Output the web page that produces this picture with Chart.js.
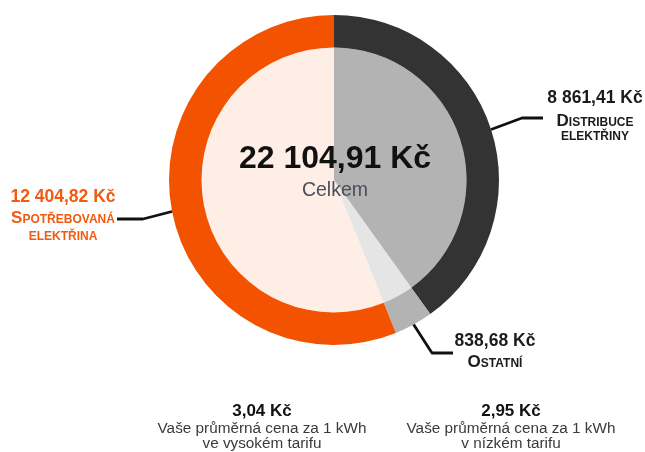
<!DOCTYPE html>
<html lang="cs">
<head>
<meta charset="utf-8">
<script src="https://cdn.jsdelivr.net/npm/chart.js@4/dist/chart.umd.min.js"></script>
<style>
  html, body { margin: 0; padding: 0; background: #fff; }
  #wrap { position: relative; width: 645px; height: 452px; overflow: hidden; font-family: "Liberation Sans", Arial, sans-serif; }
  #costChart { position: absolute; left: 0; top: 0; }
  .txt { position: absolute; white-space: nowrap; transform: translateX(-50%); }
</style>
</head>
<body>
<div id="wrap">
  <canvas id="costChart" width="645" height="452"></canvas>
</div>
<script>
// data
const categories = ['Distribuce elektřiny', 'Ostatní', 'Spotřebovaná elektřina'];
const amounts = [8861.41, 838.68, 12404.82];
const ringColors = ['#333333', '#b3b3b3', '#f35200'];
const fillColors = ['#b3b3b3', '#e5e5e5', '#feeee6'];
const labelColors = ['#1b1b1b', '#1b1b1b', '#f35a10'];
const totalLabel = 'Celkem';
const tariffPrices = [3.04, 2.95];
const tariffNotes = ['ve vysokém tarifu', 'v nízkém tarifu'];

// layout (label anchors, leader elbows)
const labelAnchors = [
  { cx: 595, base: [104, 126, 140] },
  { cx: 495, base: [347, 367] },
  { cx: 63,  base: [203, 223, 240] },
];
const leaders = [
  { elbow: [522, 118], end: [543, 118] },
  { elbow: [432, 353], end: [453, 353] },
  { elbow: [143, 219], end: [117, 219] },
];
const tariffX = [262, 511];

function formatKc(v) {
  const [i, d] = v.toFixed(2).split('.');
  return i.replace(/\B(?=(\d{3})+(?!\d))/g, ' ') + ',' + d + ' Kč';
}

const wrap = document.getElementById('wrap');
function addText(text, cx, baseline, size, weight, color, extra) {
  const el = document.createElement('div');
  el.className = 'txt';
  el.textContent = text;
  el.style.left = cx + 'px';
  el.style.top = (baseline - 0.8465 * size) + 'px';
  el.style.fontSize = size + 'px';
  el.style.lineHeight = size + 'px';
  el.style.fontWeight = weight;
  el.style.color = color;
  if (extra) Object.assign(el.style, extra);
  wrap.appendChild(el);
}

// leader lines from the middle of each outer arc
const leaderPlugin = {
  id: 'leaders',
  afterDraw(chart) {
    const ctx = chart.ctx;
    const arcs = chart.getDatasetMeta(0).data;
    ctx.save();
    ctx.strokeStyle = '#111';
    ctx.lineWidth = 2.8;
    ctx.lineJoin = 'round';
    arcs.forEach((arc, i) => {
      const p = arc.getProps(['x', 'y', 'startAngle', 'endAngle', 'outerRadius'], true);
      const mid = (p.startAngle + p.endAngle) / 2;
      const sx = p.x + Math.cos(mid) * p.outerRadius;
      const sy = p.y + Math.sin(mid) * p.outerRadius;
      ctx.beginPath();
      ctx.moveTo(sx, sy);
      ctx.lineTo(leaders[i].elbow[0], leaders[i].elbow[1]);
      ctx.lineTo(leaders[i].end[0], leaders[i].end[1]);
      ctx.stroke();
    });
    ctx.restore();
  },
};

new Chart(document.getElementById('costChart'), {
  type: 'doughnut',
  data: {
    labels: categories,
    datasets: [
      { data: amounts, backgroundColor: ringColors, borderWidth: 0, hoverOffset: 0, weight: 1 },
      { data: amounts, backgroundColor: fillColors, borderWidth: 0, hoverOffset: 0, weight: 4.08 },
    ],
  },
  options: {
    responsive: false,
    animation: false,
    cutout: 0,
    layout: { padding: { left: 169, top: 15, right: 146, bottom: 107 } },
    plugins: { legend: { display: false }, tooltip: { enabled: false } },
  },
  plugins: [leaderPlugin],
});

// centre
const total = amounts.reduce((a, b) => a + b, 0);
addText(formatKc(total), 335, 168, 32, 'bold', '#111');
addText(totalLabel, 335, 197, 19.5, 'normal', '#4d4d5a');

// slice labels
categories.forEach((name, i) => {
  const a = labelAnchors[i];
  addText(formatKc(amounts[i]), a.cx, a.base[0], 17.5, 'bold', labelColors[i]);
  name.split(' ').forEach((word, k) => {
    addText(word, a.cx, a.base[k + 1], 17, 'bold', labelColors[i], { fontVariant: 'small-caps' });
  });
});

// tariff notes
tariffPrices.forEach((p, i) => {
  addText(formatKc(p), tariffX[i], 416, 17, 'bold', '#111');
  addText('Vaše průměrná cena za 1 kWh', tariffX[i], 433, 15.3, 'normal', '#3a3a3a');
  addText(tariffNotes[i], tariffX[i], 448, 15.3, 'normal', '#3a3a3a');
});
</script>
</body>
</html>
